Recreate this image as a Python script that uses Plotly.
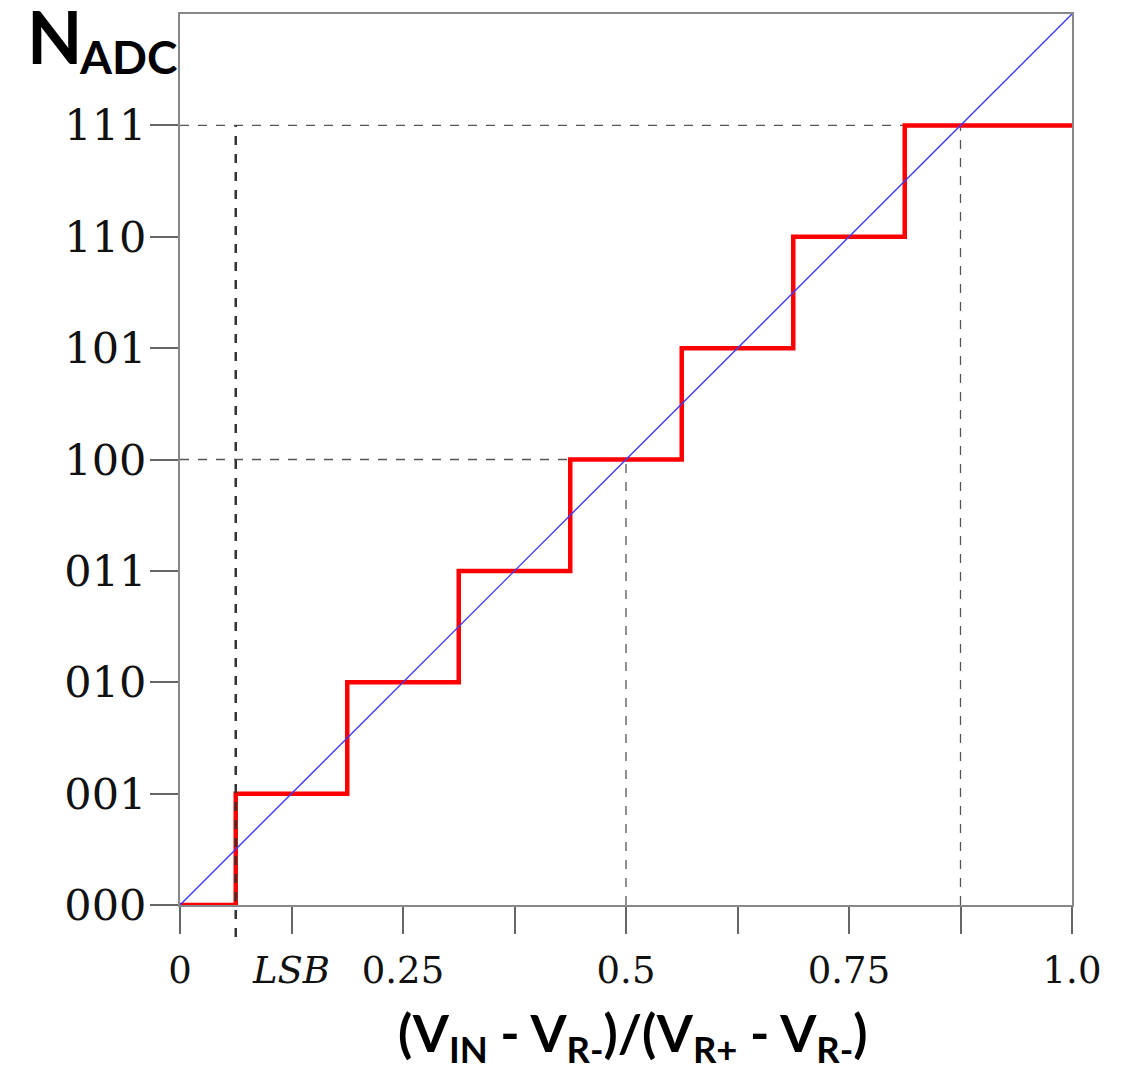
import plotly.graph_objects as go

# ---- data ----
codes = ["000", "001", "010", "011", "100", "101", "110", "111"]
code_values = [0, 1, 2, 3, 4, 5, 6, 7]
transition_x = [0.0625, 0.1875, 0.3125, 0.4375, 0.5625, 0.6875, 0.8125]
x_tick_vals = [0, 0.125, 0.25, 0.5, 0.75, 1.0]
x_tick_text = ["0", "<i>LSB</i>", "0.25", "0.5", "0.75", "1.0"]
x_minor_ticks = [0.375, 0.625, 0.875]
ideal_x = [0.0, 1.0]
ideal_y = [0.0, 8.0]
# guide lines: (x value, code level)
guide_h = [(1.0, 7), (0.5, 4)]      # horizontal to x, at level
guide_v = [(0.5, 4), (0.875, 7)]    # vertical at x, up to level
lsb_x = 0.0625
lsb_level = 7

Y_MAX = 8.0

step_x = [0.0] + transition_x + [1.0]
step_y = code_values + [code_values[-1]]

fig = go.Figure()

shapes = []
for xe, lv in guide_h:
    shapes.append(dict(type="line", xref="x", yref="y", x0=0, x1=xe, y0=lv, y1=lv,
                       line=dict(color="#555555", width=1.3, dash="dash"), layer="below"))
for xv, lv in guide_v:
    shapes.append(dict(type="line", xref="x", yref="y", x0=xv, x1=xv, y0=0, y1=lv,
                       line=dict(color="#555555", width=1.3, dash="dash"), layer="below"))
shapes.append(dict(type="line", xref="x", yref="paper", x0=lsb_x, x1=lsb_x,
                   y0=-0.036, y1=lsb_level / Y_MAX,
                   line=dict(color="#333333", width=2.5, dash="dash"), layer="above"))

fig.add_trace(go.Scatter(x=step_x, y=step_y, mode="lines", line_shape="hv",
                         line=dict(color="#ff0000", width=4.5), showlegend=False))
fig.add_trace(go.Scatter(x=ideal_x, y=ideal_y, mode="lines",
                         line=dict(color="#3b3bff", width=1.4), showlegend=False))

fig.update_layout(
    width=1133, height=1071,
    margin=dict(l=180, r=61, t=12, b=166),
    plot_bgcolor="white", paper_bgcolor="white",
    shapes=shapes,
    showlegend=False,
    font=dict(family="DejaVu Serif", color="#111111"),
)
fig.update_xaxes(range=[0, 1], tickvals=x_tick_vals, ticktext=x_tick_text,
                 ticks="outside", ticklen=27, tickwidth=1.5, tickcolor="#666666",
                 minor=dict(tickvals=x_minor_ticks, ticks="outside", ticklen=27,
                            tickwidth=1.5, tickcolor="#666666", showgrid=False),
                 showline=True, linecolor="#888888", linewidth=2, mirror=True,
                 showgrid=False, zeroline=False, ticklabelstandoff=5,
                 tickfont=dict(family="DejaVu Serif", size=37, color="#111111"))
fig.update_yaxes(range=[0, Y_MAX], tickvals=code_values, ticktext=codes,
                 ticks="outside", ticklen=28, tickwidth=1.5, tickcolor="#666666",
                 showline=True, linecolor="#888888", linewidth=2, mirror=True,
                 showgrid=False, zeroline=False, ticklabelstandoff=-5,
                 tickfont=dict(family="DejaVu Serif", size=43, color="#111111"))

fig.add_annotation(text="<b>N</b>", xref="paper", yref="paper",
                   x=-0.1733, y=1.026, xanchor="left", yanchor="top", showarrow=False,
                   font=dict(family="Lato", size=72, color="#000000"))
fig.add_annotation(text="<b>ADC</b>", xref="paper", yref="paper",
                   x=-0.1155, y=0.9858, xanchor="left", yanchor="top", showarrow=False,
                   font=dict(family="Lato", size=46, color="#000000"))
fig.add_annotation(text="<b>(V<sub>IN</sub> - V<sub>R-</sub>)/(V<sub>R+</sub> - V<sub>R-</sub>)</b>",
                   xref="paper", yref="paper", x=0.508, y=-0.106, xanchor="center",
                   yanchor="top", showarrow=False,
                   font=dict(family="Lato", size=52, color="#000000"))

fig.write_html("out.html")
